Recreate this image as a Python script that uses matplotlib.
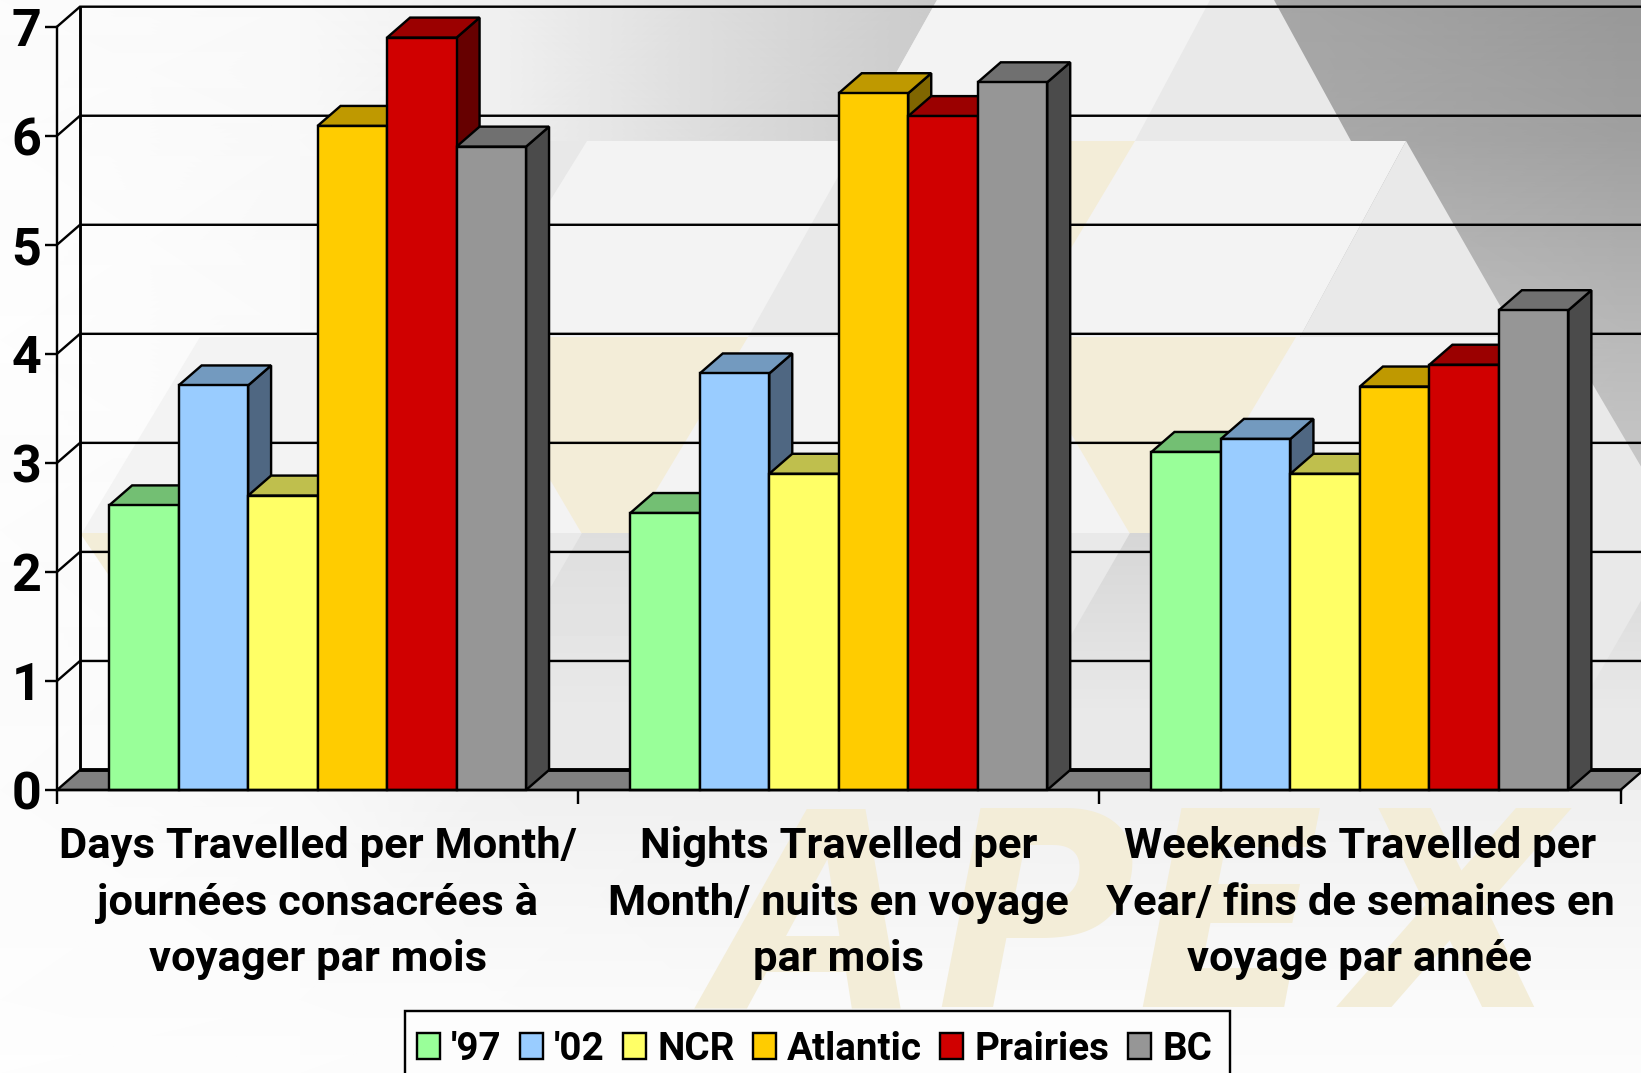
import matplotlib
matplotlib.use("Agg")
import matplotlib.pyplot as plt
import numpy as np
from matplotlib.patches import Polygon, Patch, Rectangle
from matplotlib import font_manager as fm

# ---------- data ----------
categories = ["Days Travelled per Month/\njournées consacrées à\nvoyager par mois",
              "Nights Travelled per\nMonth/ nuits en voyage\npar mois",
              "Weekends Travelled per\nYear/ fins de semaines en\nvoyage par année"]
series_names = ["'97", "'02", "NCR", "Atlantic", "Prairies", "BC"]
v97 = [2.61, 2.54, 3.1]
v02 = [3.71, 3.82, 3.22]
ncr = [2.7, 2.9, 2.9]
atlantic = [6.09, 6.39, 3.7]
prairies = [6.9, 6.18, 3.9]
bc = [5.9, 6.49, 4.4]
series_values = [v97, v02, ncr, atlantic, prairies, bc]
front_colors = ["#99FF99", "#99CCFF", "#FFFF66", "#FFCC00", "#D00000", "#969696"]
top_colors = ["#73BF73", "#739ABF", "#BFBF4D", "#BF9900", "#9B0000", "#707070"]
side_colors = ["#4D804D", "#4F6782", "#80803A", "#806600", "#660000", "#4B4B4B"]
yticks = [0, 1, 2, 3, 4, 5, 6, 7]

W, H = 1641, 1073
DPI = 100
FONT = ["Roboto", "Liberation Sans"]
px = 72 / DPI  # points per pixel
LW = 2.4 * px
BLACK = "#000000"

fig = plt.figure(figsize=(W / DPI, H / DPI), dpi=DPI)

# ---------- decorative slide background (pixel coordinates) ----------
bg = fig.add_axes([0, 0, 1, 1], zorder=0)
bg.axis("off")
gx = [0, 300, 500, 700, 900, 1300, 1641]
gy = [0, 140, 340, 530, 790, 1000, 1073]
gv = [[252, 249, 240, 222, 206, 165, 152],
      [253, 249, 240, 222, 206, 170, 160],
      [254, 250, 245, 235, 225, 195, 185],
      [253, 250, 245, 240, 235, 215, 205],
      [252, 249, 241, 240, 240, 240, 240],
      [253, 252, 251, 250, 250, 250, 250],
      [254, 253, 252, 252, 252, 252, 252]]
X, Y = np.meshgrid(gx, gy)
bg.pcolormesh(X, Y, np.array(gv, float), shading="gouraud", cmap="gray", vmin=0, vmax=255, zorder=0)

LIGHT, MID, BEIGE = "#F3F3F3", "#E9E9E9", "#F3EDD8"
shapes = [
    ([(937, 0), (1274, 0), (1351, 141), (858, 141)], MID),
    ([(937, 0), (1210, 0), (1135, 141), (858, 141)], LIGHT),
    ([(500, 141), (587, 141), (466, 337), (500, 337)], "#E8E8E8"),
    ([(587, 141), (1406, 141), (1300, 337), (466, 337)], LIGHT),
    ([(1406, 141), (1518, 337), (1300, 337)], MID),
    ([(858, 141), (1000, 141), (1000, 337), (748, 337)], MID),
    ([(1000, 141), (1135, 141), (1018, 337), (1000, 337)], BEIGE),
    ([(200, 337), (1565, 337), (1459, 533), (82, 533)], LIGHT),
    ([(1565, 337), (1680, 533), (1459, 533)], MID),
    ([(466, 337), (748, 337), (630, 534), (582, 534)], BEIGE),
    ([(1014, 337), (1296, 337), (1178, 534), (1130, 534)], BEIGE),
    ([(80, 533), (112, 533), (112, 580)], BEIGE),
    ([(400, 533), (1680, 533), (1680, 790), (400, 790)], MID),
]
for pts, col in shapes:
    bg.add_patch(Polygon(pts, closed=True, fc=col, ec="none", zorder=1))

for off, v0 in ((0, 222.0), (548, 214.0), (1098, 214.0)):
    pts = [(582 + off, 533), (700 + off, 533), (700 + off, 790), (434 + off, 790)]
    clip = Polygon(pts, closed=True, fc="none", ec="none", transform=bg.transData)
    bg.add_patch(clip)
    col = np.linspace(v0, 233.0, 32).reshape(-1, 1)
    im = bg.imshow(col, extent=(400 + off, 720 + off, 720, 533), cmap="gray",
                   vmin=0, vmax=255, aspect="auto", interpolation="bilinear", zorder=2)
    im.set_clip_path(clip)
bg.set_xlim(0, W)
bg.set_ylim(H, 0)

# Watermark
for ch, xl in zip("APEX", (712, 935, 1136, 1350)):
    bg.text(xl, 1007, ch, fontsize=273 * px, family="DejaVu Sans", fontweight="bold", style="oblique",
            color=BEIGE, ha="left", va="baseline", zorder=3)

# ---------- chart ----------
ax = fig.add_axes([57 / W, (H - 790) / H, (1620.5 - 57) / W, (790 - 26.7) / H], zorder=1)
ax.patch.set_alpha(0)
ax.set_xlim(0, 3)
ax.set_ylim(0, 7)
# 3-D depth of the plot, in axis units
unit_x = (1620.5 - 57) / 3
unit_y = (790 - 26.7) / 7
dx, dy = 23 / unit_x, 20 / unit_y

# walls, floor and grid
for v in yticks:
    if v > 0:
        ax.plot([0, dx, 3 + dx], [v, v + dy, v + dy], color=BLACK, lw=LW, clip_on=False, zorder=1,
                solid_joinstyle="miter", solid_capstyle="butt")
ax.plot([dx, dx], [dy, 7 + dy], color=BLACK, lw=LW * 1.2, clip_on=False, zorder=1)
ax.add_patch(Polygon([(0, 0), (dx, dy), (3 + dx, dy), (3, 0)], closed=True, fc="#808080", ec=BLACK, lw=LW,
                     clip_on=False, zorder=1, joinstyle="miter"))
ax.plot([dx, 3 + dx], [dy, dy], color=BLACK, lw=LW * 1.6, clip_on=False, zorder=1, solid_capstyle="butt")

# bars
gap = 0.1
bw = (1 - 2 * gap) / len(series_values)
z = 3
for g in range(len(categories)):
    for s, vals in enumerate(series_values):
        x0 = g + gap + s * bw
        x1 = x0 + bw
        v = vals[g]
        ax.bar(x0, v, bw, align="edge", color=front_colors[s], edgecolor=BLACK, linewidth=LW, zorder=z + 0.2,
               clip_on=False)
        ax.add_patch(Polygon([(x1, 0), (x1 + dx, dy), (x1 + dx, v + dy), (x1, v)], closed=True, fc=side_colors[s],
                             ec=BLACK, lw=LW, zorder=z, clip_on=False, joinstyle="miter"))
        ax.add_patch(Polygon([(x0, v), (x0 + dx, v + dy), (x1 + dx, v + dy), (x1, v)], closed=True, fc=top_colors[s],
                             ec=BLACK, lw=LW, zorder=z + 0.1, clip_on=False, joinstyle="miter"))
        z += 1

# axes
for side in ("top", "right"):
    ax.spines[side].set_visible(False)
for side in ("left", "bottom"):
    ax.spines[side].set_linewidth(LW)
    ax.spines[side].set_color(BLACK)
    ax.spines[side].set_zorder(50)
ax.set_yticks(yticks)
ax.set_yticklabels([str(t) for t in yticks], fontsize=52 * px, family=FONT, fontweight="bold")
ax.tick_params(axis="y", length=12 * px, width=LW, pad=3.5 * px)
ax.set_xticks([0, 1, 2, 3])
ax.set_xticklabels([])
ax.tick_params(axis="x", length=14 * px, width=LW)
ax.set_xticks([0.5, 1.5, 2.5], minor=True)
ax.set_xticklabels(categories, minor=True, fontsize=43.5 * px, family=FONT, fontweight="bold", linespacing=1.49,
                   ha="center", va="top")
ax.tick_params(axis="x", which="minor", length=0, pad=36 * px)

# legend: its frame runs off the bottom of the slide
fig.add_artist(Rectangle((405 / W, -0.01), (1230 - 405) / W, (H - 1011) / H + 0.01, transform=fig.transFigure,
                         fc="#FDFDFD", ec=BLACK, lw=LW, zorder=90))
handles = [Patch(fc=c, ec=BLACK, lw=LW) for c in front_colors]
fs = 38.6 * px
leg = fig.legend(handles, series_names, loc="upper left", bbox_to_anchor=(405 / W, (H - 1019) / H),
                 ncol=6, frameon=False, borderaxespad=0, borderpad=0.3, columnspacing=0.47, handlelength=0.6,
                 handleheight=0.65, handletextpad=0.29,
                 prop=fm.FontProperties(family=FONT, weight="bold", size=fs))
leg.set_zorder(100)

fig.savefig("out.png", dpi=DPI)
